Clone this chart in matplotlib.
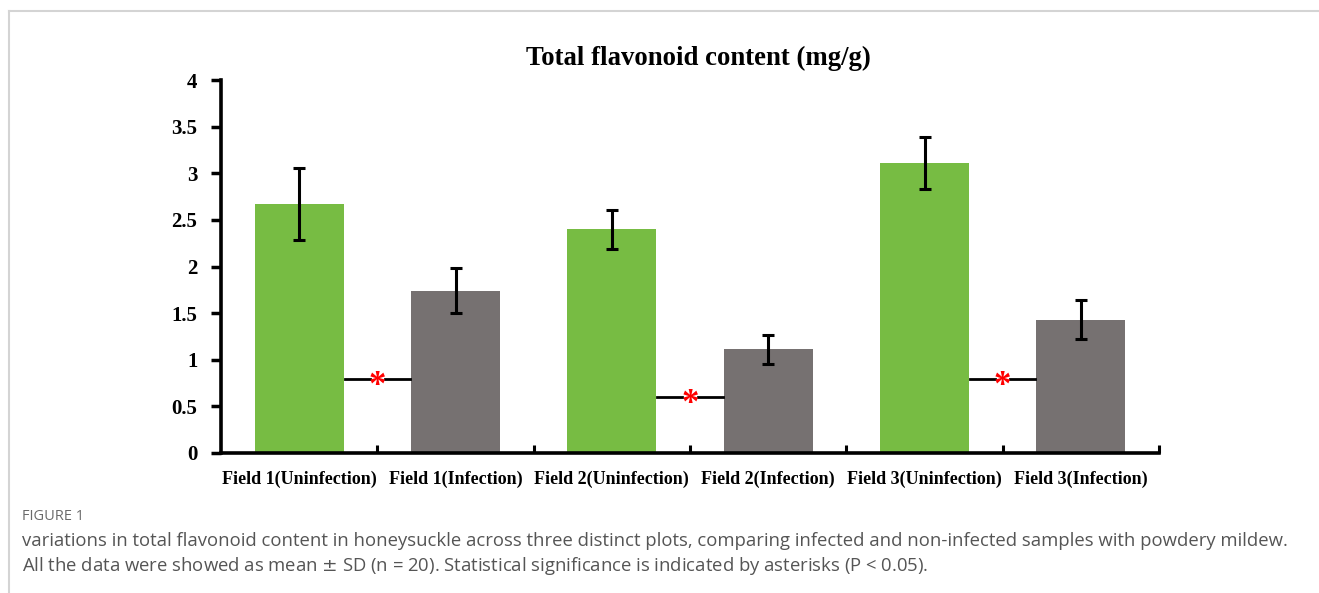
"""Total flavonoid content bar chart with SD error bars and significance marks."""

import matplotlib

matplotlib.use("Agg")
import matplotlib.pyplot as plt  # noqa: E402
import numpy as np  # noqa: E402
from matplotlib.lines import Line2D  # noqa: E402

categories = [
    "Field 1(Uninfection)",
    "Field 1(Infection)",
    "Field 2(Uninfection)",
    "Field 2(Infection)",
    "Field 3(Uninfection)",
    "Field 3(Infection)",
]
means = [2.67, 1.74, 2.40, 1.11, 3.11, 1.43]
sds = [0.39, 0.24, 0.21, 0.16, 0.28, 0.21]
# significance bracket height for each field (between uninfected and infected)
sig_levels = [0.79, 0.60, 0.79]
yticks = [0, 0.5, 1, 1.5, 2, 2.5, 3, 3.5, 4]
ytick_labels = ["0", "0.5", "1", "1.5", "2", "2.5", "3", "3.5", "4"]

GREEN = "#77bc43"
GREY = "#767171"
SERIF = ["Liberation Serif", "DejaVu Serif"]
SANS = ["Open Sans", "DejaVu Sans"]

fig = plt.figure(figsize=(13.19, 5.93), dpi=100)

# light frame around the figure panel (top and left edges)
frame = "#d4d4d4"
fig.add_artist(Line2D([9 / 1319, 1.0], [1 - 11 / 593] * 2, color=frame, lw=1.5,
                      transform=fig.transFigure))
fig.add_artist(Line2D([9 / 1319] * 2, [0.0, 1 - 11 / 593], color=frame, lw=1.5,
                      transform=fig.transFigure))

ax = fig.add_axes([221 / 1319, 1 - 453 / 593, (1159 - 221) / 1319, (453 - 80) / 593])

x = np.arange(len(categories))
colors = [GREEN if i % 2 == 0 else GREY for i in range(len(categories))]
ax.bar(x, means, width=0.57, color=colors, zorder=2)
ax.errorbar(x, means, yerr=sds, fmt="none", ecolor="black", elinewidth=2.2,
            capsize=4, capthick=2.2, zorder=3)

for k, level in enumerate(sig_levels):
    left = 2 * k
    ax.plot([left + 0.29, left + 0.45], [level, level], color="black", lw=2, zorder=3)
    ax.plot([left + 0.55, left + 0.71], [level, level], color="black", lw=2, zorder=3)
    ax.text(left + 0.5, level - 0.08, "*", color="red", ha="center", va="center",
            fontsize=25, fontweight="bold", family=SERIF, zorder=4)

ax.set_xlim(-0.5, len(categories) - 0.5)
ax.set_ylim(0, 4)
ax.set_yticks(yticks)
ax.set_yticklabels(ytick_labels, family=SERIF, fontweight="bold", fontsize=15)

# category boundaries carry the x tick marks, labels sit under the bars
ax.set_xticks(np.arange(len(categories)) + 0.5)
ax.set_xticklabels([])
ax.set_xticks(x, minor=True)
ax.set_xticklabels(categories, minor=True, family=SERIF, fontweight="bold", fontsize=13)
ax.tick_params(axis="x", which="major", direction="in", length=6, width=2.2)
ax.tick_params(axis="x", which="minor", length=0, pad=13)
ax.tick_params(axis="y", direction="out", length=7, width=2.5, pad=10)

for side in ("top", "right"):
    ax.spines[side].set_visible(False)
for side in ("left", "bottom"):
    ax.spines[side].set_linewidth(2.6)

fig.text(698 / 1319, 1 - 58 / 593, "Total flavonoid content (mg/g)", family=SERIF,
         fontweight="bold", fontsize=19.3, ha="center", va="center")

fig.text(22 / 1319, 1 - 517 / 593, "FIGURE 1", color="#6a6a6a", fontsize=10.5,
         family=SANS, va="center")
caption = (
    "variations in total flavonoid content in honeysuckle across three distinct plots, "
    "comparing infected and non-infected samples with powdery mildew.\n"
    "All the data were showed as mean $\\pm$ SD (n = 20). Statistical significance is "
    "indicated by asterisks (P < 0.05)."
)
fig.text(22 / 1319, 1 - 532 / 593, caption, color="#555555", fontsize=13.3,
         family=SANS, va="top", linespacing=1.3)

fig.savefig("out.png", dpi=100)
